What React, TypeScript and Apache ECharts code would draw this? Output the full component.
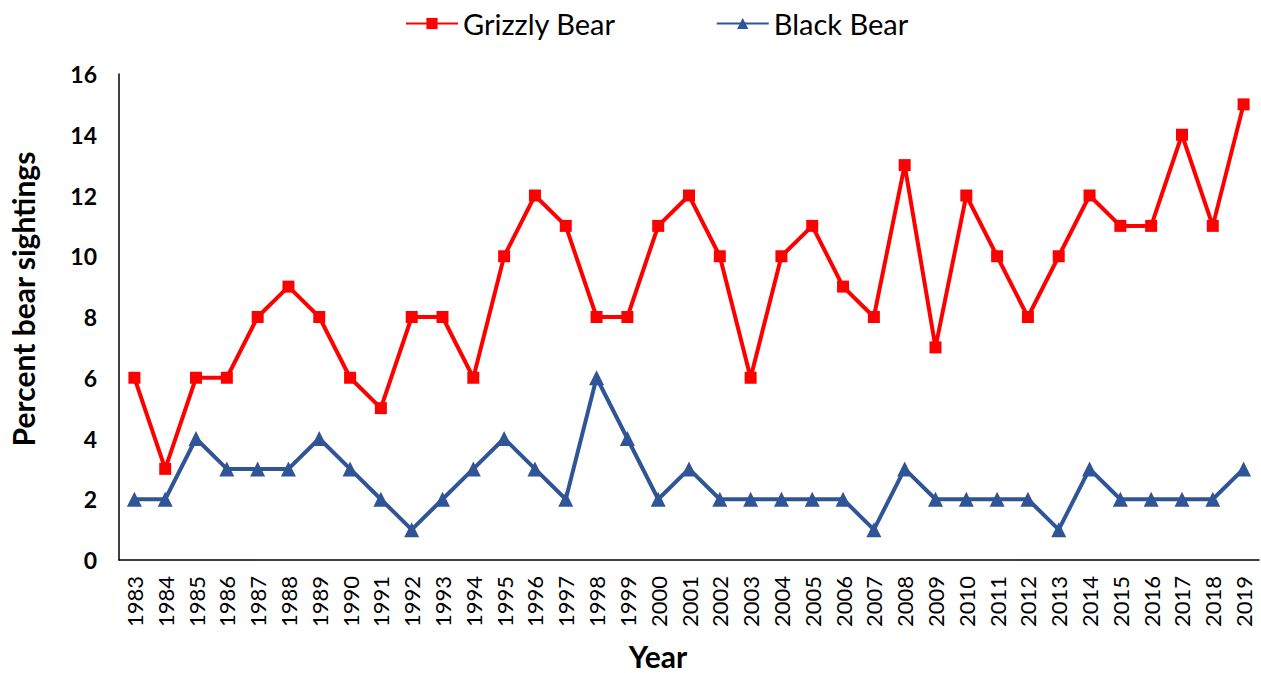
import React, { useEffect, useRef } from "react";
import * as echarts from "echarts";

const years = [
  "1983","1984","1985","1986","1987","1988","1989","1990","1991","1992",
  "1993","1994","1995","1996","1997","1998","1999","2000","2001","2002",
  "2003","2004","2005","2006","2007","2008","2009","2010","2011","2012",
  "2013","2014","2015","2016","2017","2018","2019",
];
const grizzly = [6,3,6,6,8,9,8,6,5,8,8,6,10,12,11,8,8,11,12,10,6,10,11,9,8,13,7,12,10,8,10,12,11,11,14,11,15];
const black = [2,2,4,3,3,3,4,3,2,1,2,3,4,3,2,6,4,2,3,2,2,2,2,2,1,3,2,2,2,2,1,3,2,2,2,2,3];
const yTitle = "Percent bear sightings";
const xTitle = "Year";

const FONT = "Lato, 'Open Sans', sans-serif";

export default function App() {
  const ref = useRef<HTMLDivElement>(null);
  useEffect(() => {
    document.body.style.margin = "0";
    if (!ref.current) return;
    const chart = echarts.init(ref.current, undefined, { renderer: "svg" });
    chart.setOption({
      animation: false,
      textStyle: { fontFamily: FONT },
      legend: {
        top: 4,
        left: 400,
        itemWidth: 52,
        itemHeight: 14,
        itemGap: 100,
        textStyle: { fontSize: 29, color: "#000", fontFamily: FONT },
        data: ["Grizzly Bear", "Black Bear"],
      },
      grid: { left: 119, width: 1140, top: 74, height: 486, containLabel: false },
      graphic: [
        {
          type: "text",
          x: 23,
          y: 299,
          rotation: Math.PI / 2,
          style: {
            text: yTitle,
            fontSize: 30,
            fontWeight: "bold",
            fontFamily: FONT,
            fill: "#000",
            textAlign: "center",
            textVerticalAlign: "middle",
          },
        },
        {
          type: "text",
          x: 658,
          y: 656,
          style: {
            text: xTitle,
            fontSize: 30,
            fontWeight: "bold",
            fontFamily: FONT,
            fill: "#000",
            textAlign: "center",
            textVerticalAlign: "middle",
          },
        },
      ],
      xAxis: {
        type: "category",
        data: years,
        boundaryGap: true,
        axisLine: { lineStyle: { color: "#000", width: 1.5 } },
        axisTick: { show: false },
        axisLabel: { rotate: 90, fontSize: 22, color: "#000", margin: 16, interval: 0, fontFamily: FONT },
      },
      yAxis: {
        type: "value",
        min: 0,
        max: 16,
        interval: 2,
        axisLine: { show: true, lineStyle: { color: "#000", width: 1.5 } },
        axisTick: { show: false },
        splitLine: { show: false },
        axisLabel: { fontSize: 23, fontWeight: "bold", color: "#000", margin: 22, fontFamily: FONT },
      },
      series: [
        {
          name: "Grizzly Bear",
          type: "line",
          data: grizzly,
          symbol: "rect",
          symbolSize: 12,
          itemStyle: { color: "#FF0000" },
          lineStyle: { color: "#FF0000", width: 4 },
        },
        {
          name: "Black Bear",
          type: "line",
          data: black,
          symbol: "triangle",
          symbolSize: 15,
          itemStyle: { color: "#2F5597" },
          lineStyle: { color: "#2F5597", width: 4 },
        },
      ],
    });
    return () => chart.dispose();
  }, []);
  return <div ref={ref} style={{ width: 1261, height: 673 }} />;
}
